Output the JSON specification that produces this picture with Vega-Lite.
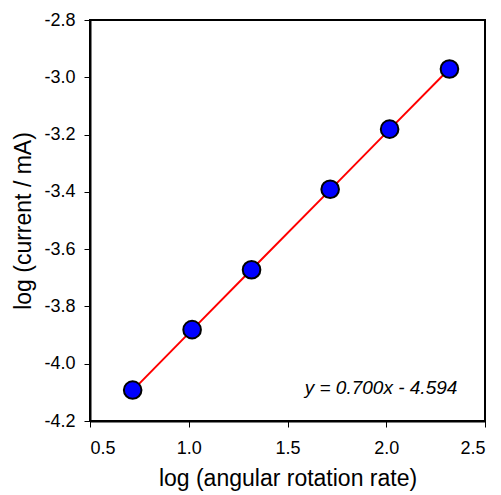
{
  "$schema": "https://vega.github.io/schema/vega-lite/v6.json",
  "autosize": "none",
  "padding": {"left": 90, "top": 20, "right": 16, "bottom": 74},
  "width": 395,
  "height": 401,
  "background": "white",
  "config": {
    "view": {"stroke": "black", "strokeWidth": 2},
    "font": "Liberation Sans",
    "axis": {
      "grid": false,
      "domainColor": "black",
      "domainWidth": 2,
      "tickColor": "black",
      "tickWidth": 1,
      "tickSize": 6,
      "labelFont": "Liberation Sans",
      "labelFontSize": 18,
      "labelColor": "black",
      "titleFont": "Liberation Sans",
      "titleFontSize": 23,
      "titleFontWeight": "normal",
      "titleColor": "black"
    }
  },
  "data": {
    "values": [
      {"x": 0.716, "y": -4.092, "fit": -4.093},
      {"x": 1.017, "y": -3.881, "fit": -3.882},
      {"x": 1.318, "y": -3.672, "fit": -3.671},
      {"x": 1.716, "y": -3.391, "fit": -3.393},
      {"x": 2.017, "y": -3.181, "fit": -3.182},
      {"x": 2.320, "y": -2.971, "fit": -2.970}
    ]
  },
  "layer": [
    {
      "mark": {"type": "line", "color": "#ff0000", "strokeWidth": 2},
      "encoding": {
        "x": {
          "field": "x", "type": "quantitative",
          "scale": {"domain": [0.5, 2.5], "nice": false, "zero": false},
          "axis": {"values": [0.5, 1.0, 1.5, 2.0, 2.5], "labelExpr": "replace(format(datum.value, '.1f'), '\u2212', '-')", "title": "log (angular rotation rate)", "labelPadding": 12, "titlePadding": 10}
        },
        "y": {
          "field": "fit", "type": "quantitative",
          "scale": {"domain": [-4.2, -2.8], "nice": false, "zero": false},
          "axis": {"values": [-4.2, -4.0, -3.8, -3.6, -3.4, -3.2, -3.0, -2.8], "labelExpr": "replace(format(datum.value, '.1f'), '\u2212', '-')", "title": "log (current / mA)", "labelPadding": 9, "titlePadding": 8}
        }
      }
    },
    {
      "mark": {"type": "point", "shape": "circle", "filled": true, "fill": "#0000ff", "stroke": "black", "strokeWidth": 2, "opacity": 1, "size": 310},
      "encoding": {
        "x": {"field": "x", "type": "quantitative"},
        "y": {"field": "y", "type": "quantitative"}
      }
    },
    {
      "data": {"values": [{"x": 2.36, "y": -4.085, "label": "y = 0.700x - 4.594"}]},
      "mark": {"type": "text", "align": "right", "baseline": "middle", "fontStyle": "italic", "fontSize": 19, "font": "Liberation Sans", "color": "black"},
      "encoding": {
        "x": {"field": "x", "type": "quantitative"},
        "y": {"field": "y", "type": "quantitative"},
        "text": {"field": "label"}
      }
    }
  ]
}
